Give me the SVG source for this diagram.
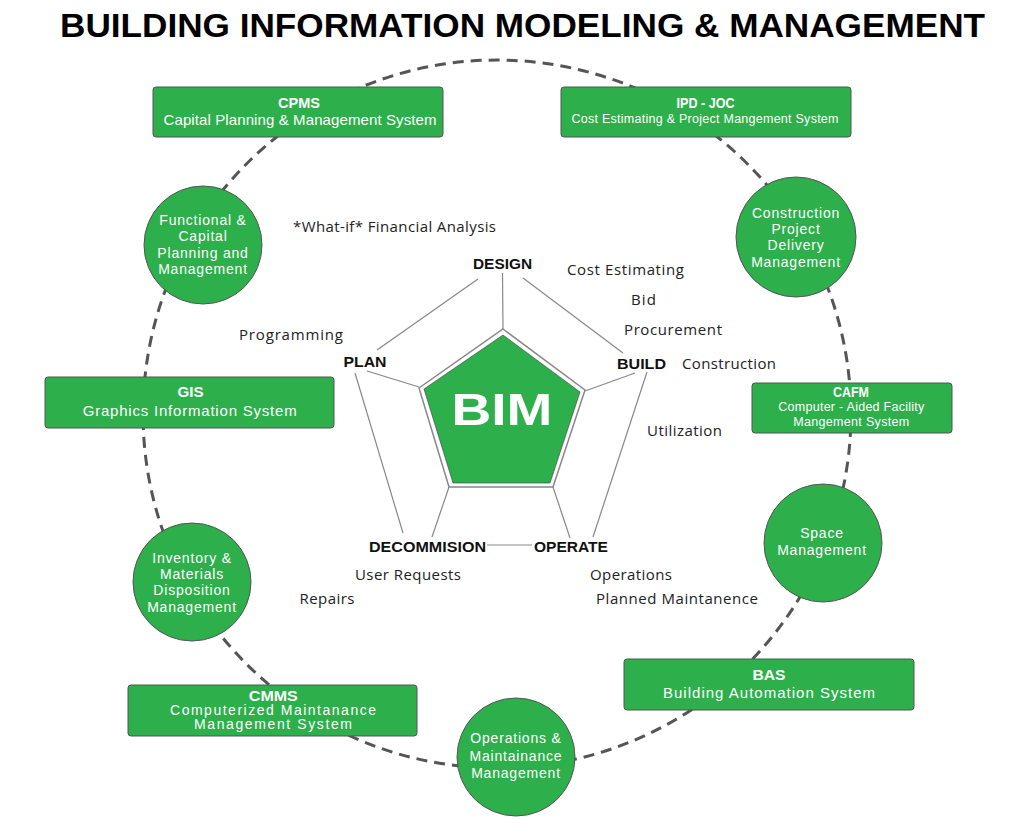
<svg xmlns="http://www.w3.org/2000/svg" width="1024" height="819" viewBox="0 0 1024 819">
<style>
.box{fill:#2db04b;stroke:#555;stroke-width:1}
.circ{fill:#2db04b;stroke:#555;stroke-width:1}
.ct{font-family:"Liberation Sans",Arial,sans-serif;font-size:14px;letter-spacing:0.8px;fill:#fff;text-anchor:middle}
.ns{font-family:"Liberation Sans",Arial,sans-serif;fill:#fff;text-anchor:middle}
.bt{font-family:"Liberation Sans",Arial,sans-serif;font-weight:bold;font-size:14px;fill:#fff;text-anchor:middle}
.lbl{font-family:"Open Sans","Liberation Sans",sans-serif;font-size:15px;fill:#222}
.stage{font-family:"Liberation Sans",Arial,sans-serif;font-weight:bold;font-size:14.5px;fill:#111}
.dash{fill:none;stroke:#555;stroke-width:3;stroke-dasharray:11 7}
.thin{fill:none;stroke:#888;stroke-width:1.2}
</style>
<rect width="1024" height="819" fill="#fff"/>
<text x="60" y="37" font-family="Liberation Sans,Arial,sans-serif" font-weight="bold" font-size="34" fill="#000" textLength="925" lengthAdjust="spacingAndGlyphs">BUILDING INFORMATION MODELING &amp; MANAGEMENT</text>

<g id="connectors">
<path class="dash" d="M302.1,118.5 A354,354 0 0 1 698.5,123"/>
<path class="dash" d="M698.5,123 A354,354 0 0 1 801.7,233.8"/>
<path class="dash" d="M801.7,233.8 A354,354 0 0 1 850.9,407.8"/>
<path class="dash" d="M850.9,407.8 A354,354 0 0 1 826.1,544.3"/>
<path class="dash" d="M826.1,544.3 A354,354 0 0 1 747.7,663.9"/>
<path class="dash" d="M747.7,663.9 A354,354 0 0 1 516.8,767.4"/>
<path class="dash" d="M516.8,767.4 A354,354 0 0 1 283,695.9"/>
<path class="dash" d="M283,695.9 A354,354 0 0 1 186.8,584.6"/>
<path class="dash" d="M186.8,584.6 A354,354 0 0 1 143.3,400.4"/>
<path class="dash" d="M143.3,400.4 A354,354 0 0 1 190.1,237.5"/>
<path class="dash" d="M190.1,237.5 A354,354 0 0 1 302.1,118.5"/>
<line class="thin" x1="502.5" y1="273" x2="503" y2="329"/>
<line class="thin" x1="478" y1="279" x2="377" y2="350"/>
<line class="thin" x1="523" y1="278" x2="623" y2="353"/>
<line class="thin" x1="367" y1="371" x2="419" y2="387"/>
<line class="thin" x1="355" y1="373" x2="403" y2="533"/>
<line class="thin" x1="635" y1="373" x2="585" y2="391"/>
<line class="thin" x1="647" y1="372" x2="593" y2="537"/>
<line class="thin" x1="449" y1="487" x2="432" y2="537"/>
<line class="thin" x1="553" y1="487" x2="570" y2="538"/>
<line class="thin" x1="487" y1="545" x2="532" y2="545"/>
</g>

<g id="bim">
<polygon points="503,329 585,390 553,487 449,487 419,388" fill="#fff" stroke="#888" stroke-width="1.5"/>
<polygon points="503,335 580,392 550,483 453,483 424,389" fill="#2db04b" stroke="#3a3a3a" stroke-width="0.6"/>
<text x="502" y="425" font-family="Liberation Sans,Arial,sans-serif" font-weight="bold" font-size="44" fill="#fff" text-anchor="middle" textLength="101" lengthAdjust="spacingAndGlyphs">BIM</text>
</g>

<g id="stages">
<text class="stage" x="473" y="268.5" textLength="59" lengthAdjust="spacingAndGlyphs">DESIGN</text>
<text class="stage" x="343.5" y="367" textLength="43" lengthAdjust="spacingAndGlyphs">PLAN</text>
<text class="stage" x="617" y="368.5" textLength="49" lengthAdjust="spacingAndGlyphs">BUILD</text>
<text class="stage" x="369" y="552" textLength="117" lengthAdjust="spacingAndGlyphs">DECOMMISION</text>
<text class="stage" x="534" y="552" textLength="74" lengthAdjust="spacingAndGlyphs">OPERATE</text>
</g>

<g id="labels">
<text class="lbl" x="293" y="231.5" textLength="203">*What-if* Financial Analysis</text>
<text class="lbl" x="239" y="339.5" textLength="104">Programming</text>
<text class="lbl" x="567" y="275" textLength="117">Cost Estimating</text>
<text class="lbl" x="631" y="304.5" textLength="25">Bid</text>
<text class="lbl" x="624" y="334.5" textLength="98">Procurement</text>
<text class="lbl" x="682" y="368.5" textLength="94">Construction</text>
<text class="lbl" x="647" y="435.5" textLength="75">Utilization</text>
<text class="lbl" x="355" y="579.5" textLength="106">User Requests</text>
<text class="lbl" x="299.5" y="603.5" textLength="55">Repairs</text>
<text class="lbl" x="590" y="579.5" textLength="82">Operations</text>
<text class="lbl" x="596" y="603.5" textLength="162">Planned Maintanence</text>
</g>

<g id="cpms">
<rect class="box" x="153" y="87" width="290" height="50" rx="3"/>
<text class="bt" x="299" y="108.3" textLength="42" lengthAdjust="spacingAndGlyphs">CPMS</text>
<text class="ns" x="300" y="124.5" font-size="15" textLength="273">Capital Planning &amp; Management System</text>
</g>

<g id="ipd-joc">
<rect class="box" x="561" y="87" width="290" height="50" rx="3"/>
<text class="bt" x="705.5" y="108.3" textLength="58" lengthAdjust="spacingAndGlyphs">IPD - JOC</text>
<text class="ns" x="705" y="122.7" font-size="12.5" textLength="267">Cost Estimating &amp; Project Mangement System</text>
</g>

<g id="construction">
<circle class="circ" cx="796" cy="237" r="60"/>
<text class="ct" x="796" y="217.7">Construction</text>
<text class="ct" x="796" y="234">Project</text>
<text class="ct" x="796" y="250.3">Delivery</text>
<text class="ct" x="796" y="266.7">Management</text>
</g>

<g id="cafm">
<rect class="box" x="752" y="383" width="200" height="50" rx="3"/>
<text class="bt" x="851" y="397" font-size="12" textLength="36" lengthAdjust="spacingAndGlyphs">CAFM</text>
<text class="ns" x="851.3" y="411.3" font-size="12.5" textLength="146">Computer - Aided Facility</text>
<text class="ns" x="851.2" y="425.5" font-size="12.5" textLength="116">Mangement System</text>
</g>

<g id="space">
<circle class="circ" cx="823" cy="543" r="59"/>
<text class="ct" x="822" y="538.3">Space</text>
<text class="ct" x="822" y="555">Management</text>
</g>

<g id="bas">
<rect class="box" x="624" y="659" width="290" height="51" rx="3"/>
<text class="bt" x="769" y="680" textLength="33" lengthAdjust="spacingAndGlyphs">BAS</text>
<text class="ns" x="769" y="697.7" font-size="15" textLength="212">Building Automation System</text>
</g>

<g id="operations">
<circle class="circ" cx="516" cy="757" r="59"/>
<text class="ct" x="516" y="743.3">Operations &amp;</text>
<text class="ct" x="516" y="760.5">Maintainance</text>
<text class="ct" x="516" y="777.5">Management</text>
</g>

<g id="cmms">
<rect class="box" x="128" y="685" width="289" height="51" rx="3"/>
<text class="bt" x="273.3" y="700.5" textLength="49" lengthAdjust="spacingAndGlyphs">CMMS</text>
<text class="ns" x="273" y="714.5" font-size="14" textLength="206">Computerized Maintanance</text>
<text class="ns" x="273" y="728.5" font-size="14" textLength="158">Management System</text>
</g>

<g id="inventory">
<circle class="circ" cx="192" cy="582" r="59"/>
<text class="ct" x="192" y="562.7">Inventory &amp;</text>
<text class="ct" x="192" y="579">Materials</text>
<text class="ct" x="192" y="595.3">Disposition</text>
<text class="ct" x="192" y="611.7">Management</text>
</g>

<g id="gis">
<rect class="box" x="45" y="377" width="289" height="51" rx="3"/>
<text class="bt" x="190.5" y="397.3" textLength="26" lengthAdjust="spacingAndGlyphs">GIS</text>
<text class="ns" x="189.7" y="416" font-size="15" textLength="214">Graphics Information System</text>
</g>

<g id="functional">
<circle class="circ" cx="203" cy="245" r="59"/>
<text class="ct" x="203" y="225">Functional &amp;</text>
<text class="ct" x="203" y="241.3">Capital</text>
<text class="ct" x="203" y="257.5">Planning and</text>
<text class="ct" x="203" y="273.7">Management</text>
</g>
</svg>
